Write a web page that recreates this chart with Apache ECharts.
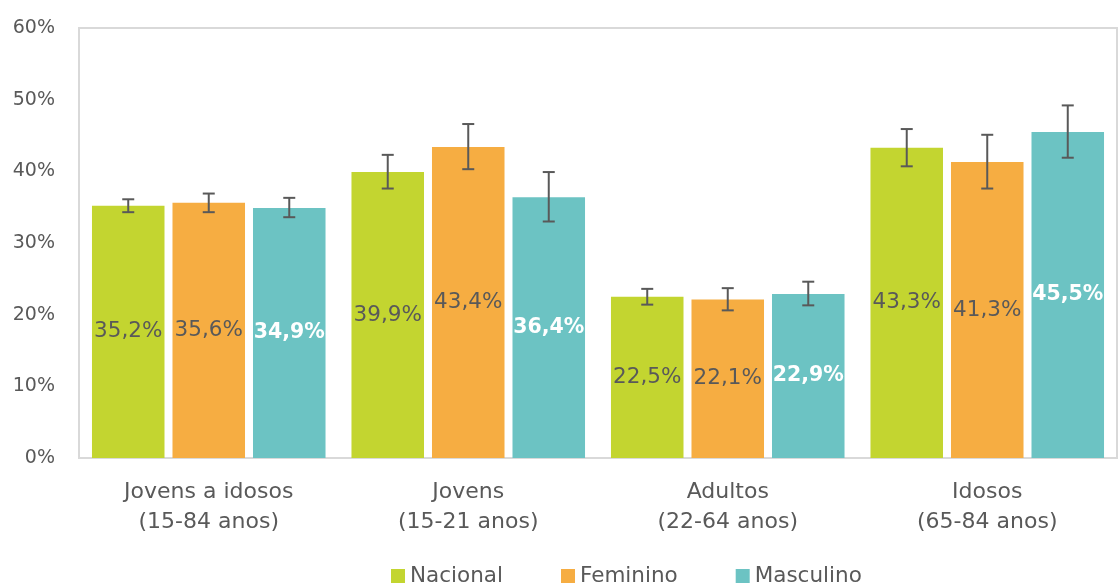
<!DOCTYPE html>
<html>
<head>
<meta charset="utf-8">
<script src="https://cdn.jsdelivr.net/npm/echarts@6/dist/echarts.min.js"></script>
<style>html,body{margin:0;padding:0;background:#fff}#c{width:1118px;height:585px}</style>
</head>
<body>
<div id="c"></div>
<script>
const categories = ['Jovens a idosos\n(15-84 anos)', 'Jovens\n(15-21 anos)', 'Adultos\n(22-64 anos)', 'Idosos\n(65-84 anos)'];
const seriesNames = ['Nacional', 'Feminino', 'Masculino'];
const nacional = [35.2, 39.9, 22.5, 43.3];
const feminino = [35.6, 43.4, 22.1, 41.3];
const masculino = [34.9, 36.4, 22.9, 45.5];
// error bar ranges [low, high]
const nacionalErr = [[34.3, 36.1], [37.6, 42.3], [21.4, 23.6], [40.7, 45.9]];
const femininoErr = [[34.3, 36.9], [40.3, 46.6], [20.6, 23.7], [37.6, 45.1]];
const masculinoErr = [[33.6, 36.3], [33.0, 39.9], [21.3, 24.6], [41.9, 49.2]];
const yTicks = { min: 0, max: 60, interval: 10 };

const colors = ['#c3d530', '#f6ad42', '#6cc3c3'];
const FONT = 'DejaVu Sans';
const TXT = '#595959';
const CAT_GAP = 0.10, BAR_GAP = 0.11;

const values = [nacional, feminino, masculino];
const errs = [nacionalErr, femininoErr, masculinoErr];

function fmt(v){ return v.toFixed(1).replace('.', ',') + '%'; }

const series = [];
values.forEach((vals, k) => {
  series.push({
    name: seriesNames[k], type: 'bar', data: vals,
    barCategoryGap: (CAT_GAP*100)+'%', barGap: (BAR_GAP*100)+'%',
    itemStyle: { color: colors[k] },
    label: {
      show: true, position: 'inside',
      formatter: p => fmt(p.value),
      fontFamily: FONT, fontSize: k === 2 ? 20.5 : 21.5,
      color: k === 2 ? '#ffffff' : TXT,
      fontWeight: k === 2 ? 'bold' : 'normal'
    }
  });
});
errs.forEach((e, k) => {
  series.push({
    type: 'custom', z: 5, silent: true,
    data: e.map((r, i) => [i, r[0], r[1]]),
    renderItem: function(params, api){
      const i = api.value(0);
      const lo = api.coord([i, api.value(1)]);
      const hi = api.coord([i, api.value(2)]);
      const band = api.size([1, 0])[0];
      const bw = band * (1 - CAT_GAP) / (3 + 2*BAR_GAP);
      const x = lo[0] + (k - 1) * bw * (1 + BAR_GAP);
      const c = 6;
      const st = { stroke: '#595959', lineWidth: 2 };
      return { type: 'group', children: [
        { type: 'line', shape: { x1: x, y1: lo[1], x2: x, y2: hi[1] }, style: st },
        { type: 'line', shape: { x1: x - c, y1: lo[1], x2: x + c, y2: lo[1] }, style: st },
        { type: 'line', shape: { x1: x - c, y1: hi[1], x2: x + c, y2: hi[1] }, style: st }
      ]};
    }
  });
});

const chart = echarts.init(document.getElementById('c'));
chart.setOption({
  animation: false,
  color: colors,
  grid: { left: 79, right: 1, top: 28, bottom: 127, show: true, borderColor: '#d9d9d9', borderWidth: 2 },
  legend: {
    data: seriesNames, top: 560, left: 386,
    itemWidth: 14, itemHeight: 14, itemGap: 58, icon: 'rect',
    textStyle: { fontFamily: FONT, fontSize: 21.5, color: TXT }
  },
  xAxis: {
    type: 'category', data: categories,
    axisTick: { show: false },
    axisLine: { lineStyle: { color: '#d9d9d9', width: 2 } },
    axisLabel: { fontFamily: FONT, fontSize: 22, color: TXT, lineHeight: 30, margin: 19 }
  },
  yAxis: {
    type: 'value', min: yTicks.min, max: yTicks.max, interval: yTicks.interval,
    splitLine: { show: false },
    axisLine: { show: false }, axisTick: { show: false },
    axisLabel: { formatter: '{value}%', fontFamily: FONT, fontSize: 19, color: TXT, margin: 24 }
  },
  series: series
});
</script>
</body>
</html>
